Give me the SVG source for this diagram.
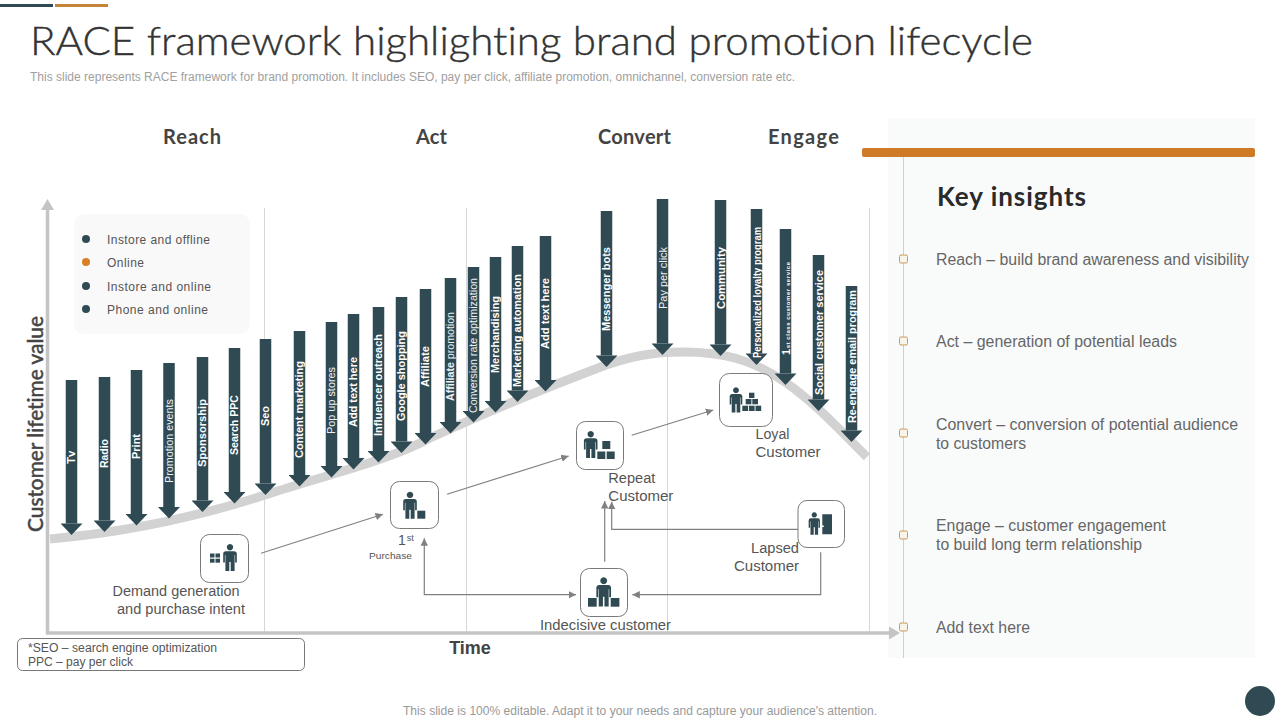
<svg xmlns="http://www.w3.org/2000/svg" width="1280" height="720" viewBox="0 0 1280 720">
<style>
text{font-family:"Liberation Sans",Arial,sans-serif;font-variant-ligatures:none}
.hd{font-family:Lato,"Liberation Sans",sans-serif;font-weight:700;font-size:20px;fill:#444;text-anchor:middle}
.lb{font-size:14px;fill:#555}
.ins{font-size:16px;fill:#666}
.lg{font-size:12px;fill:#555}
.box{fill:#fff;stroke:#7a7a7a;stroke-width:1}
.ic{fill:#2f4a53}
.ch{stroke:#2f4a53;stroke-width:11.5;marker-end:url(#hd)}
.chr{font-size:11px;fill:#eef2f3}
.chb{font-size:11px;fill:#fff;font-weight:700}
.cn{fill:none;stroke:#808080;stroke-width:1.2}
.div{stroke:#d6d6d6;stroke-width:1}
.mk{fill:#f9f4ea;stroke:#c99a5e;stroke-width:1}
</style>
<defs>
<marker id="hd" markerUnits="userSpaceOnUse" markerWidth="22" markerHeight="22" viewBox="0 -11 12 22" refX="0" refY="0" orient="auto"><path d="M0,-11L11.500,0L0,11Z" fill="#2f4a53"/></marker>
<marker id="ar" markerUnits="userSpaceOnUse" markerWidth="8" markerHeight="8" viewBox="0 -4 8 8" refX="7.500" refY="0" orient="auto-start-reverse"><path d="M0,-3.700L7.500,0L0,3.700Z" fill="#808080"/></marker>
<marker id="ax" markerUnits="userSpaceOnUse" markerWidth="12" markerHeight="14" viewBox="0 -7 12 14" refX="0" refY="0" orient="auto"><path d="M0,-6.500L11,0L0,6.500Z" fill="#c4c4c4"/></marker>
<path id="person" d="M-4,7.200H4Q6.800,7.200 6.800,10V18.500H5.100V11H4.600V27H.7V18H-.7V27H-4.600V11H-5.100V18.500H-6.800V10Q-6.800,7.200 -4,7.200ZM0,0a3.200,3.200 0 1 1 -.01,0Z"/>
</defs>
<rect width="1280" height="720" fill="#fff"/>
<g id="top-bars"><rect x="0" y="4" width="53" height="3" fill="#2f4a53"/><rect x="55" y="4" width="53" height="3" fill="#c58538"/></g>
<text x="30" y="55" font-size="40" textLength="1003" lengthAdjust="spacingAndGlyphs" stroke="#333" stroke-width=".4" style="font-family:Lato,'Liberation Sans',sans-serif;font-weight:300" fill="#333">RACE framework highlighting brand promotion lifecycle</text>
<text x="30" y="80.500" font-size="12" textLength="765" lengthAdjust="spacingAndGlyphs" fill="#a0a0a0">This slide represents RACE framework for brand promotion. It includes SEO, pay per click, affiliate promotion, omnichannel, conversion rate etc.</text>
<text class="hd" x="192" y="144" textLength="58" lengthAdjust="spacing">Reach</text><text class="hd" x="431.500" y="144" textLength="31" lengthAdjust="spacing">Act</text><text class="hd" x="634.500" y="144" textLength="73" lengthAdjust="spacing">Convert</text><text class="hd" x="803.500" y="144" textLength="71" lengthAdjust="spacing">Engage</text>

<g id="insights-panel">
<rect x="888" y="118" width="367" height="540" fill="#f9fbfb"/>
<line x1="903.500" y1="157" x2="903.500" y2="658" stroke="#d0d0d0"/>
<rect x="862" y="148" width="393" height="9" rx="2" fill="#ce7a26"/>
<text x="937" y="206" font-size="26" textLength="149" lengthAdjust="spacing" style="font-family:Lato,'Liberation Sans',sans-serif;font-weight:700" fill="#2a2a2a">Key insights</text>
<rect class="mk" x="899.500" y="255" width="8" height="8" rx="1.500"/><text class="ins" x="936" y="265" textLength="313" lengthAdjust="spacingAndGlyphs">Reach – build brand awareness and visibility</text>
<rect class="mk" x="899.500" y="337" width="8" height="8" rx="1.500"/><text class="ins" x="936" y="347" textLength="241" lengthAdjust="spacingAndGlyphs">Act – generation of potential leads</text>
<rect class="mk" x="899.500" y="429" width="8" height="8" rx="1.500"/><text class="ins" x="936" y="430" textLength="302" lengthAdjust="spacingAndGlyphs">Convert – conversion of potential audience</text><text class="ins" x="936" y="449" textLength="90" lengthAdjust="spacingAndGlyphs">to customers</text>
<rect class="mk" x="899.500" y="531" width="8" height="8" rx="1.500"/><text class="ins" x="936" y="531" textLength="230" lengthAdjust="spacingAndGlyphs">Engage – customer engagement</text><text class="ins" x="936" y="550" textLength="206" lengthAdjust="spacingAndGlyphs">to build long term relationship</text>
<rect class="mk" x="899.500" y="623" width="8" height="8" rx="1.500"/><text class="ins" x="936" y="633" textLength="94" lengthAdjust="spacingAndGlyphs">Add text here</text>
</g>

<g id="dividers"><line class="div" x1="264.500" y1="208" x2="264.500" y2="632"/><line class="div" x1="466.500" y1="208" x2="466.500" y2="632"/><line class="div" x1="667.500" y1="208" x2="667.500" y2="632"/><line class="div" x1="869.500" y1="208" x2="869.500" y2="632"/></g>

<g id="legend">
<rect x="74" y="214" width="176" height="120" rx="10" fill="#f9f9f9"/>
<circle cx="86" cy="239" r="4" fill="#2f4a53"/><text class="lg" x="107" y="244" textLength="103" lengthAdjust="spacing">Instore and offline</text>
<circle cx="86" cy="262" r="4" fill="#d97f26"/><text class="lg" x="107" y="267" textLength="37" lengthAdjust="spacing">Online</text>
<circle cx="86" cy="286" r="4" fill="#2f4a53"/><text class="lg" x="107" y="291" textLength="104" lengthAdjust="spacing">Instore and online</text>
<circle cx="86" cy="309" r="4" fill="#2f4a53"/><text class="lg" x="107" y="314" textLength="101" lengthAdjust="spacing">Phone and online</text>
</g>

<path id="curve" d="M50,539C130,532 200,516 265,495C330,474 390,460 430,438C480,415 540,390 606,365C630,357 650,352 683,352C720,352 750,358 785,382C815,403 835,425 867,457" fill="none" stroke="#d2d2d2" stroke-width="9"/>
<g id="axes" fill="none" stroke="#c4c4c4" stroke-width="3.500">
<line x1="47.500" y1="634" x2="47.500" y2="210" marker-end="url(#ax)"/>
<line x1="46" y1="633" x2="889" y2="633" marker-end="url(#ax)"/>
</g>
<text transform="translate(43,532) rotate(-90)" font-size="21" textLength="216" lengthAdjust="spacingAndGlyphs" stroke="#444" stroke-width=".5" style="font-family:Lato,'Liberation Sans',sans-serif;font-weight:400" fill="#444">Customer lifetime value</text>
<text x="470" y="654" font-size="18" font-weight="700" fill="#444" text-anchor="middle">Time</text>

<g id="channels">
<g id="c1"><line class="ch" x1="71.500" y1="380" x2="71.500" y2="523.500"/><text class="chb" transform="translate(75,464) rotate(-90)" textLength="13.500" lengthAdjust="spacingAndGlyphs">Tv</text></g>
<g id="c2"><line class="ch" x1="104.500" y1="377" x2="104.500" y2="520.500"/><text class="chb" transform="translate(108,468) rotate(-90)" textLength="29" lengthAdjust="spacingAndGlyphs">Radio</text></g>
<g id="c3"><line class="ch" x1="136.500" y1="370" x2="136.500" y2="514"/><text class="chb" transform="translate(140,459) rotate(-90)" textLength="25" lengthAdjust="spacingAndGlyphs">Print</text></g>
<g id="c4"><line class="ch" x1="169" y1="363" x2="169" y2="507"/><text class="chr" transform="translate(173,483) rotate(-90)" textLength="84" lengthAdjust="spacingAndGlyphs">Promotion events</text></g>
<g id="c5"><line class="ch" x1="202.500" y1="357" x2="202.500" y2="500.500"/><text class="chb" transform="translate(206,467) rotate(-90)" textLength="68" lengthAdjust="spacingAndGlyphs">Sponsorship</text></g>
<g id="c6"><line class="ch" x1="234.500" y1="348" x2="234.500" y2="492"/><text class="chb" transform="translate(238,455) rotate(-90)" textLength="60" lengthAdjust="spacingAndGlyphs">Search PPC</text></g>
<g id="c7"><line class="ch" x1="265.500" y1="339" x2="265.500" y2="483.500"/><text class="chb" transform="translate(269,426) rotate(-90)" textLength="20" lengthAdjust="spacingAndGlyphs">Seo</text></g>
<g id="c8"><line class="ch" x1="299.500" y1="331" x2="299.500" y2="475"/><text class="chb" transform="translate(303,458) rotate(-90)" textLength="97" lengthAdjust="spacingAndGlyphs">Content marketing</text></g>
<g id="c9"><line class="ch" x1="331.500" y1="322" x2="331.500" y2="466"/><text class="chr" transform="translate(335,434) rotate(-90)" textLength="67" lengthAdjust="spacingAndGlyphs">Pop up stores</text></g>
<g id="c10"><line class="ch" x1="353.500" y1="314" x2="353.500" y2="458"/><text class="chb" transform="translate(357,427) rotate(-90)" textLength="70" lengthAdjust="spacingAndGlyphs">Add text here</text></g>
<g id="c11"><line class="ch" x1="378.500" y1="307" x2="378.500" y2="451"/><text class="chb" transform="translate(382,436) rotate(-90)" textLength="102" lengthAdjust="spacingAndGlyphs">Influencer outreach</text></g>
<g id="c12"><line class="ch" x1="401.500" y1="297" x2="401.500" y2="441.500"/><text class="chb" transform="translate(405,421) rotate(-90)" textLength="90" lengthAdjust="spacingAndGlyphs">Google shopping</text></g>
<g id="c13"><line class="ch" x1="425.500" y1="289" x2="425.500" y2="433"/><text class="chb" transform="translate(429,387) rotate(-90)" textLength="41" lengthAdjust="spacingAndGlyphs">Affiliate</text></g>
<g id="c14"><line class="ch" x1="450.500" y1="278" x2="450.500" y2="422"/><text class="chr" transform="translate(454,401) rotate(-90)" textLength="89" lengthAdjust="spacingAndGlyphs"><tspan font-weight="700">Affiliate</tspan> promotion</text></g>
<g id="c15"><line class="ch" x1="473.500" y1="267" x2="473.500" y2="411"/><text class="chr" transform="translate(477,413) rotate(-90)" textLength="135" lengthAdjust="spacingAndGlyphs">Conversion rate optimization</text></g>
<g id="c16"><line class="ch" x1="495.500" y1="257" x2="495.500" y2="401"/><text class="chb" transform="translate(499,373) rotate(-90)" textLength="77" lengthAdjust="spacingAndGlyphs">Merchandising</text></g>
<g id="c17"><line class="ch" x1="517.500" y1="246" x2="517.500" y2="390.500"/><text class="chb" transform="translate(521,387) rotate(-90)" textLength="113" lengthAdjust="spacingAndGlyphs">Marketing automation</text></g>
<g id="c18"><line class="ch" x1="545.500" y1="236" x2="545.500" y2="380"/><text class="chb" transform="translate(549,349) rotate(-90)" textLength="71" lengthAdjust="spacingAndGlyphs">Add text here</text></g>
<g id="c19"><line class="ch" x1="606.500" y1="211" x2="606.500" y2="355.500"/><text class="chb" transform="translate(610,331) rotate(-90)" textLength="84" lengthAdjust="spacingAndGlyphs">Messenger bots</text></g>
<g id="c20"><line class="ch" x1="662.500" y1="199" x2="662.500" y2="343.500"/><text class="chr" transform="translate(667,309) rotate(-90)" textLength="62" lengthAdjust="spacingAndGlyphs">Pay per click</text></g>
<g id="c21"><line class="ch" x1="720.500" y1="200" x2="720.500" y2="344.500"/><text class="chb" transform="translate(725,309) rotate(-90)" textLength="62" lengthAdjust="spacingAndGlyphs">Community</text></g>
<g id="c22"><line class="ch" x1="756.500" y1="209" x2="756.500" y2="353.500"/><text class="chb" style="font-size:10px" transform="translate(760.500,358) rotate(-90)" textLength="131" lengthAdjust="spacingAndGlyphs">Personalized loyalty program</text></g>
<g id="c23"><line class="ch" x1="785.500" y1="229" x2="785.500" y2="373.500"/><text class="chb" style="font-size:6px" transform="translate(789.500,355) rotate(-90)" textLength="93" lengthAdjust="spacing"><tspan font-size="11">1</tspan>st class customer service</text></g>
<g id="c24"><line class="ch" x1="818.500" y1="255" x2="818.500" y2="399.500"/><text class="chb" transform="translate(822.500,395) rotate(-90)" textLength="125" lengthAdjust="spacingAndGlyphs">Social customer service</text></g>
<g id="c25"><line class="ch" x1="851.500" y1="286" x2="851.500" y2="430.500"/><text class="chb" transform="translate(855.500,423) rotate(-90)" textLength="133" lengthAdjust="spacingAndGlyphs">Re-engage email program</text></g>
</g>

<g id="connectors">
<line class="cn" x1="261" y1="553.300" x2="383" y2="514.300" marker-end="url(#ar)"/>
<line class="cn" x1="447" y1="494.300" x2="568.700" y2="456" marker-end="url(#ar)"/>
<line class="cn" x1="631.700" y1="435.300" x2="713.300" y2="410" marker-end="url(#ar)"/>
<line class="cn" x1="604.700" y1="561.700" x2="604.700" y2="501" marker-end="url(#ar)"/>
<path class="cn" d="M798,529.300H611.700V501.700" marker-end="url(#ar)"/>
<path class="cn" d="M820.700,552.300V594.700H632.300" marker-end="url(#ar)"/>
<path class="cn" d="M424.300,538.300V594.700H576" marker-start="url(#ar)" marker-end="url(#ar)"/>
</g>

<g id="node-demand"><rect class="box" x="200.500" y="534.500" width="48" height="48" rx="9"/><g class="ic"><use href="#person" transform="translate(230,544)"/><rect x="210" y="553.500" width="4.500" height="4"/><rect x="215.500" y="553.500" width="4.500" height="4"/><rect x="210" y="558.700" width="4.500" height="4"/><rect x="215.500" y="558.700" width="4.500" height="4"/></g>
<text class="lb" x="112.500" y="596" textLength="127" lengthAdjust="spacingAndGlyphs">Demand generation</text><text class="lb" x="117" y="614" textLength="128" lengthAdjust="spacingAndGlyphs">and purchase intent</text></g>
<g id="node-first"><rect class="box" x="390.500" y="481.500" width="48" height="47" rx="9"/><g class="ic"><use href="#person" transform="translate(410,491.700)"/><rect x="417.300" y="510.700" width="8" height="8"/></g>
<text class="lb" x="398" y="545">1<tspan font-size="9" dy="-4" dx="1">st</tspan></text><text x="369" y="559" font-size="9.500" fill="#555" textLength="43" lengthAdjust="spacingAndGlyphs">Purchase</text></g>
<g id="node-repeat"><rect class="box" x="576.500" y="421.500" width="47" height="48" rx="9"/><g class="ic"><use href="#person" transform="translate(590.700,431)"/><rect x="597.300" y="451.500" width="8" height="7.500"/><rect x="606.700" y="451.500" width="8" height="7.500"/><rect x="602.300" y="441" width="8" height="8"/></g>
<text class="lb" x="608.300" y="483" textLength="47" lengthAdjust="spacingAndGlyphs">Repeat</text><text class="lb" x="608.300" y="501" textLength="65" lengthAdjust="spacingAndGlyphs">Customer</text></g>
<g id="node-loyal"><rect class="box" x="719.500" y="373.500" width="53" height="53" rx="10"/><g class="ic"><use href="#person" transform="translate(736,387.300) scale(.93)"/><rect x="742.300" y="405.700" width="5.700" height="5.300"/><rect x="748.900" y="405.700" width="5.700" height="5.300"/><rect x="755.500" y="405.700" width="5.700" height="5.300"/><rect x="745.700" y="399" width="5.700" height="5.300"/><rect x="752.300" y="399" width="5.700" height="5.300"/><rect x="749" y="392.700" width="5.400" height="5.300"/></g>
<text class="lb" x="755.500" y="439" textLength="34" lengthAdjust="spacingAndGlyphs">Loyal</text><text class="lb" x="755.500" y="457" textLength="65" lengthAdjust="spacingAndGlyphs">Customer</text></g>
<g id="node-lapsed"><rect class="box" x="798" y="500.500" width="46.500" height="47" rx="9"/><g class="ic"><use href="#person" transform="translate(814.300,512.300) scale(.83)"/><path d="M822.300,514.300H832V534.300H822.300V527H823.800V525.500H822.300Z"/></g>
<text class="lb" x="751" y="553" textLength="48" lengthAdjust="spacingAndGlyphs">Lapsed</text><text class="lb" x="734" y="571" textLength="65" lengthAdjust="spacingAndGlyphs">Customer</text></g>
<g id="node-indecisive"><rect class="box" x="580.500" y="568.500" width="47" height="48" rx="9"/><g class="ic"><use href="#person" transform="translate(603.700,577.300) scale(1.080)"/><rect x="588" y="598" width="8.700" height="8.700"/><rect x="610.700" y="598" width="8.700" height="8.700"/></g>
<text class="lb" x="540" y="630" textLength="131" lengthAdjust="spacingAndGlyphs">Indecisive customer</text></g>

<g id="note"><rect x="17.500" y="638.500" width="287" height="32" rx="5" fill="#fff" stroke="#777"/><text x="28" y="652" font-size="12" fill="#555" textLength="189" lengthAdjust="spacingAndGlyphs">*SEO – search engine optimization</text><text x="28" y="666" font-size="12" fill="#555" textLength="105" lengthAdjust="spacingAndGlyphs">PPC – pay per click</text></g>
<text x="403" y="715" font-size="12" fill="#999" textLength="474" lengthAdjust="spacingAndGlyphs">This slide is 100% editable. Adapt it to your needs and capture your audience's attention.</text>
<circle id="corner-dot" cx="1260" cy="701" r="15" fill="#2f4a53"/>
</svg>
